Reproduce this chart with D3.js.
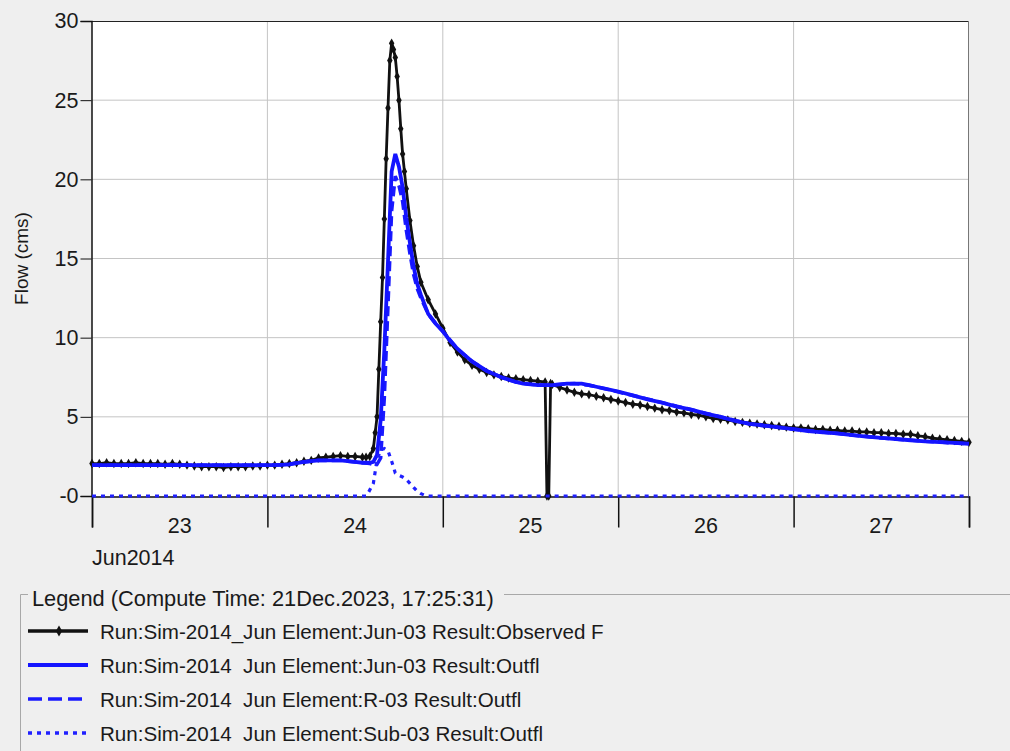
<!DOCTYPE html>
<html>
<head>
<meta charset="utf-8">
<script src="https://cdn.jsdelivr.net/npm/d3@7"></script>
<style>
  body { margin: 0; background: #efefef; }
  text { font-family: "Liberation Sans", Arial, sans-serif; fill: #1a1a1a; white-space: pre; }
</style>
</head>
<body>
<div id="chart"></div>
<script>
// hours after 23 Jun 2014 00:00, flow in cms
const observedFlow = [
  [0,2.05],[1,2.05],[2,2.1],[3,2.05],[4,2.05],[5,2.05],[6,2.1],[7,2.05],[8,2.05],[9,2.05],
  [10,2.0],[11,2.05],[12,2.0],[13,1.95],[14,1.9],[15,1.85],[16,1.85],[17,1.85],[18,1.8],[19,1.85],
  [20,1.85],[21,1.85],[22,1.9],[23,1.9],[24,1.95],[25,1.95],[26,2.0],[27,2.05],[28,2.1],[29,2.2],
  [30,2.25],[31,2.4],[32,2.45],[33,2.5],[34,2.55],[35,2.5],[36,2.5],[37,2.45],[37.5,2.45],[38,2.5],
  [38.5,3.0],[38.75,4.0],[39,5.0],[39.25,8.0],[39.5,11.0],[39.75,13.8],[40,17.5],[40.25,21.3],
  [40.5,24.5],[40.75,27.5],[41,28.6],[41.25,28.2],[41.5,27.7],[41.75,26.5],[42,25.0],[42.25,23.2],
  [42.5,21.6],[42.75,20.5],[43,19.4],[43.5,17.4],[44,15.8],[44.5,14.5],[45,13.5],[46,12.4],[47,11.5],
  [48,10.6],[49,9.7],[50,9.1],[51,8.6],[52,8.25],[53,8.0],[54,7.8],[55,7.65],[56,7.55],[57,7.45],
  [58,7.4],[59,7.35],[60,7.3],[61,7.25],[62,7.2],[62.25,0],[62.5,0],[62.75,7.1],[63,7.05],[64,6.85],
  [65,6.7],[66,6.55],[67,6.45],[68,6.4],[69,6.3],[70,6.2],[71,6.1],[72,6.0],[73,5.9],[74,5.8],
  [75,5.75],[76,5.65],[77,5.55],[78,5.45],[79,5.4],[80,5.3],[81,5.25],[82,5.15],[83,5.1],[84,5.0],
  [85,4.9],[86,4.85],[87,4.8],[88,4.7],[89,4.65],[90,4.6],[91,4.55],[92,4.5],[93,4.45],[94,4.4],
  [95,4.35],[96,4.3],[97,4.3],[98,4.25],[99,4.2],[100,4.2],[101,4.15],[102,4.15],[103,4.1],[104,4.1],
  [105,4.05],[106,4.05],[107,4.0],[108,4.0],[109,3.95],[110,3.95],[111,3.9],[112,3.9],[113,3.8],
  [114,3.75],[115,3.65],[116,3.6],[117,3.55],[118,3.5],[119,3.45],[120,3.4]
]

const junctionOutflow = [
  [0,1.95],[6,1.95],[12,1.95],[18,1.95],[24,1.95],[26,1.97],[27,2.0],[28,2.08],[29,2.15],[30,2.2],
  [31,2.25],[32,2.25],[33,2.25],[34,2.25],[35,2.2],[36,2.15],[37,2.1],[38,2.1],[38.5,2.15],[39,2.6],
  [39.5,4.8],[40,9.2],[40.5,14.8],[41,20.5],[41.5,21.6],[42,20.8],[42.5,19.5],[43,17.6],[43.5,16.0],
  [44,14.5],[44.5,13.4],[45,12.7],[46,11.5],[47,10.9],[48,10.4],[49,9.8],[50,9.3],[51,8.9],[52,8.5],
  [53,8.2],[54,7.9],[55,7.7],[56,7.5],[57,7.35],[58,7.2],[59,7.1],[60,7.05],[61,7.0],[62,7.0],
  [63,7.0],[64,7.05],[65,7.1],[66,7.1],[67,7.1],[68,7.0],[69,6.9],[70,6.8],[72,6.6],[74,6.35],
  [76,6.1],[78,5.9],[80,5.65],[82,5.45],[84,5.2],[86,5.0],[88,4.75],[90,4.55],[92,4.45],[94,4.33],
  [96,4.22],[98,4.1],[100,4.02],[102,3.95],[104,3.85],[106,3.75],[108,3.67],[110,3.6],[112,3.52],
  [114,3.45],[116,3.4],[118,3.35],[120,3.3]
]

const reachOutflow = [
  [0,1.95],[24,1.95],[26,1.97],[27,2.0],[28,2.08],[29,2.15],[30,2.2],[31,2.25],[34,2.25],[35,2.2],
  [36,2.15],[37,2.1],[38,2.05],[38.5,2.0],[39,2.0],[39.5,2.4],[40,6.2],[40.5,12.0],[41,18.0],
  [41.5,20.2],[42,19.6],[42.5,18.6],[43,16.8],[43.5,15.3],[44,14.0],[44.5,13.1],[45,12.5],[46,11.5],
  [47,10.9],[48,10.4],[50,9.3],[52,8.5],[54,7.9],[56,7.5],[58,7.2],[60,7.05],[62,7.0],[64,7.05],
  [66,7.1],[68,7.0],[70,6.8],[74,6.35],[78,5.9],[82,5.45],[86,5.0],[90,4.55],[96,4.22],[102,3.95],
  [108,3.67],[114,3.45],[120,3.3]
]

const subbasinOutflow = [
  [0,0],[37.5,0],[37.8,0.2],[38.5,0.8],[39,2.3],[39.5,2.9],[40,3.0],[40.5,2.85],[41,2.2],[41.5,1.45],
  [42,1.3],[42.5,1.2],[43,1.05],[43.5,0.8],[44,0.55],[44.5,0.3],[45,0.15],[45.5,0.05],[46,0],[120,0]
]

const yTicks = [0, 5, 10, 15, 20, 25, 30]
const yTickLabels = ["-0", "5", "10", "15", "20", "25", "30"]
const dayLabels = ["23", "24", "25", "26", "27"]
const monthLabel = "Jun2014"
const legendTitle = "Legend (Compute Time: 21Dec.2023, 17:25:31)"
const legendLabels = [
  "Run:Sim-2014_Jun Element:Jun-03 Result:Observed F",
  "Run:Sim-2014  Jun Element:Jun-03 Result:Outfl",
  "Run:Sim-2014  Jun Element:R-03 Result:Outfl",
  "Run:Sim-2014  Jun Element:Sub-03 Result:Outfl"
]

const width = 1010, height = 751
const plotLeft = 92, plotRight = 969, plotTop = 21, plotBottom = 496
const fontSize = "21.5px"
const start = new Date(Date.UTC(2014, 5, 23))
const end = new Date(Date.UTC(2014, 5, 28))
const toDate = h => d3.utcMinute.offset(start, Math.round(h * 60))

const svg = d3.select("#chart").append("svg")
  .attr("width", width).attr("height", height)

svg.append("rect").attr("width", width).attr("height", height).attr("fill", "#efefef")

const x = d3.scaleUtc().domain([start, end]).range([plotLeft, plotRight])
const y = d3.scaleLinear().domain([0, 30]).range([plotBottom, plotTop])

svg.append("rect")
  .attr("x", plotLeft).attr("y", plotTop)
  .attr("width", plotRight - plotLeft).attr("height", plotBottom - plotTop)
  .attr("fill", "#ffffff")

// grid
svg.append("g").selectAll("line")
  .data(yTicks.filter(t => t > 0 && t < 30))
  .enter().append("line")
  .attr("x1", plotLeft).attr("x2", plotRight)
  .attr("y1", d => y(d)).attr("y2", d => y(d))
  .attr("stroke", "#c4c4c4")
const days = d3.utcDay.range(start, end).slice(1)
svg.append("g").selectAll("line")
  .data(days)
  .enter().append("line")
  .attr("x1", d => x(d)).attr("x2", d => x(d))
  .attr("y1", plotTop).attr("y2", plotBottom)
  .attr("stroke", "#c4c4c4")

// frame
svg.append("line").attr("x1", plotLeft).attr("x2", plotRight).attr("y1", plotTop + 0.5).attr("y2", plotTop + 0.5).attr("stroke", "#222")
svg.append("line").attr("x1", plotRight - 0.5).attr("x2", plotRight - 0.5).attr("y1", plotTop).attr("y2", plotBottom).attr("stroke", "#777")

// y axis
const yAxis = d3.axisLeft(y).tickValues(yTicks).tickSize(11).tickPadding(2)
  .tickFormat((d, i) => yTickLabels[i])
const gy = svg.append("g").attr("transform", `translate(${plotLeft - 0.5},0)`).call(yAxis)
gy.select(".domain").attr("stroke", "#111").attr("stroke-width", 1.5)
gy.selectAll(".tick line").attr("stroke", "#111")
gy.selectAll("text").style("font-size", fontSize).attr("fill", "#1a1a1a")

svg.append("text")
  .attr("transform", `translate(28,${(plotTop + plotBottom) / 2}) rotate(-90)`)
  .attr("text-anchor", "middle")
  .style("font-size", "19px")
  .text("Flow (cms)")

// x axis
const xAxis = d3.axisBottom(x).tickValues(d3.utcDay.range(start, d3.utcDay.offset(end, 1)))
  .tickSize(31).tickFormat("")
const gx = svg.append("g").attr("transform", `translate(0,${plotBottom + 0.5})`).call(xAxis)
gx.select(".domain").attr("stroke", "#111").attr("stroke-width", 1.5)
gx.selectAll(".tick line").attr("stroke", "#111").attr("stroke-width", 1.5)

svg.append("g").selectAll("text")
  .data(dayLabels)
  .enter().append("text")
  .attr("x", (d, i) => x(d3.utcHour.offset(start, i * 24 + 12)))
  .attr("y", 533)
  .attr("text-anchor", "middle")
  .style("font-size", fontSize)
  .text(d => d)

svg.append("text").attr("x", plotLeft).attr("y", 565).style("font-size", fontSize).text(monthLabel)

// series
const line = d3.line().x(d => x(toDate(d[0]))).y(d => y(d[1]))
const plot = svg.append("g")

plot.append("path").datum(observedFlow)
  .attr("d", line).attr("fill", "none").attr("stroke", "#111").attr("stroke-width", 2.8)
plot.append("g").selectAll("path")
  .data(observedFlow)
  .enter().append("path")
  .attr("d", d3.symbol(d3.symbolDiamond, 26))
  .attr("transform", d => `translate(${x(toDate(d[0]))},${y(d[1])})`)
  .attr("fill", "#111")

plot.append("path").datum(reachOutflow)
  .attr("d", line).attr("fill", "none").attr("stroke", "#1a1aff").attr("stroke-width", 3.5)
  .attr("stroke-dasharray", "10,5")
plot.append("path").datum(junctionOutflow)
  .attr("d", line).attr("fill", "none").attr("stroke", "#1414ff").attr("stroke-width", 3.8)
plot.append("path").datum(subbasinOutflow)
  .attr("d", line).attr("fill", "none").attr("stroke", "#2020ff").attr("stroke-width", 3.2)
  .attr("stroke-dasharray", "4,5")

// legend
const lg = svg.append("g")
lg.append("path")
  .attr("d", "M20.5,751 V594.5 H28 M504,594.5 H1010")
  .attr("fill", "none").attr("stroke", "#a8a8a8")
lg.append("text").attr("x", 32).attr("y", 606).style("font-size", "21.8px").text(legendTitle)

const legendRows = [631, 665, 699, 733]
const legendStyles = [
  { color: "#111", width: 3.5, dash: null, marker: true },
  { color: "#1414ff", width: 4, dash: null, marker: false },
  { color: "#1a1aff", width: 3.5, dash: "14,6", marker: false },
  { color: "#2020ff", width: 3.5, dash: "4,5", marker: false }
]
legendLabels.forEach((label, i) => {
  const s = legendStyles[i]
  lg.append("line")
    .attr("x1", 28).attr("x2", 88).attr("y1", legendRows[i]).attr("y2", legendRows[i])
    .attr("stroke", s.color).attr("stroke-width", s.width)
    .attr("stroke-dasharray", s.dash)
  if (s.marker) {
    lg.append("path").attr("d", d3.symbol(d3.symbolDiamond, 34))
      .attr("transform", `translate(59,${legendRows[i]})`).attr("fill", s.color)
  }
  lg.append("text").attr("x", 100).attr("y", legendRows[i] + 8)
    .style("font-size", "20.6px").text(label)
})
</script>
</body>
</html>
